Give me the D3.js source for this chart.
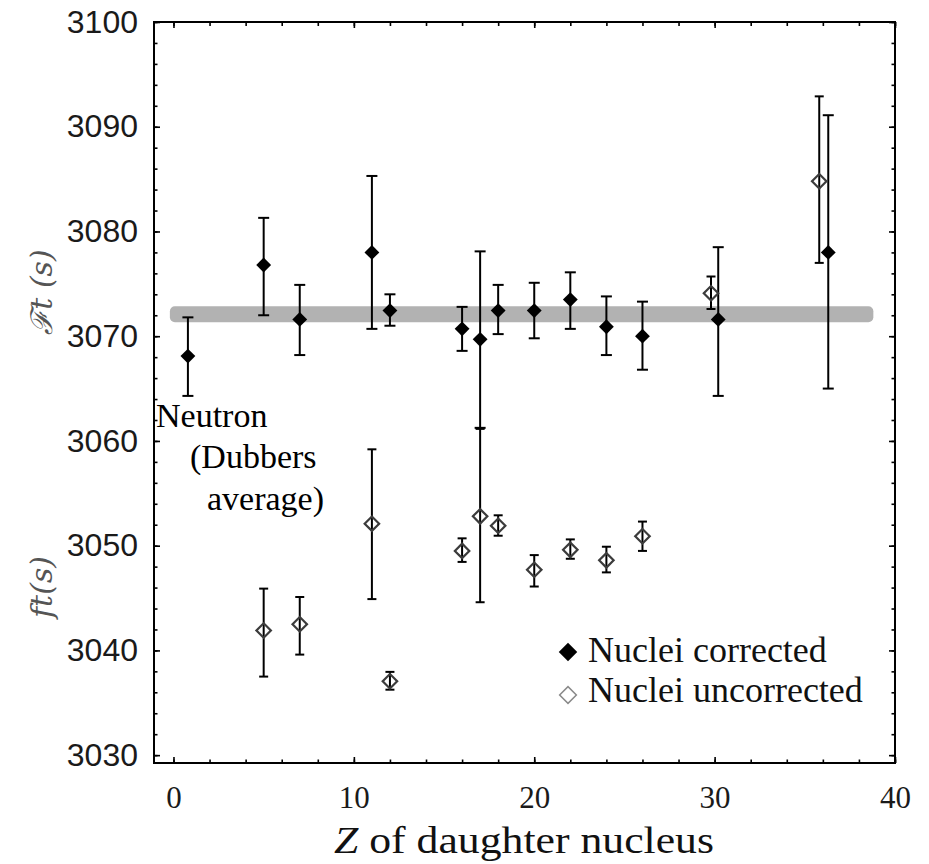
<!DOCTYPE html>
<html>
<head>
<meta charset="utf-8">
<script src="https://cdn.jsdelivr.net/npm/d3@7"></script>
<style>
    body { margin: 0; background: #fff; }
    .tick line { stroke: #000; stroke-width: 1.6; }
</style>
</head>
<body>
<script>
var w = 929;
var h = 864;

//Plot frame in pixels
var plotLeft = 154, plotRight = 895, plotTop = 22, plotBottom = 763;

//Corrected nuclei (filled diamonds), Z position, Ft value, error bar ends
var corrZ = [0.8, 5, 7, 11, 12, 16, 17, 18, 20, 22, 24, 26, 30.2, 36.3];
var corrFt = [3068.1, 3076.8, 3071.6, 3078.0, 3072.45, 3070.7, 3069.7, 3072.45, 3072.45, 3073.5, 3070.9, 3070.0, 3071.6, 3078.0];
var corrUpper = [3071.8, 3081.3, 3074.9, 3085.3, 3074.0, 3072.8, 3078.1, 3074.9, 3075.1, 3076.1, 3073.8, 3073.3, 3078.5, 3091.1];
var corrLower = [3064.3, 3072.0, 3068.2, 3070.7, 3071.0, 3068.6, 3061.25, 3070.2, 3069.8, 3070.7, 3068.2, 3066.8, 3064.3, 3065.0];

//Uncorrected nuclei (open diamonds)
var uncZ = [5, 7, 11, 12, 16, 17, 18, 20, 22, 24, 26, 29.8, 35.8];
var uncFt = [3041.9, 3042.5, 3052.1, 3037.05, 3049.5, 3052.8, 3051.9, 3047.7, 3049.6, 3048.6, 3050.9, 3074.1, 3084.8];
var uncUpper = [3045.9, 3045.1, 3059.2, 3037.95, 3050.7, 3061.15, 3052.9, 3049.1, 3050.6, 3049.9, 3052.3, 3075.7, 3092.9];
var uncLower = [3037.5, 3039.6, 3044.9, 3036.25, 3048.45, 3044.6, 3050.95, 3046.1, 3048.75, 3047.45, 3049.5, 3072.6, 3077.0];

//Average Ft band
var bandFt = 3072.1;
var bandZ = [-0.2, 38.8];

//Tick values
var xMajor = [0, 10, 20, 30, 40];
var xMinor = d3.range(0, 41, 2);
var yMajor = [3030, 3040, 3050, 3060, 3070, 3080, 3090, 3100];
var yMinor = d3.range(3030, 3101, 2);

var legendLabels = ["Nuclei corrected", "Nuclei uncorrected"];

function zip(z, v, hi, lo) {
    return z.map(function (d, i) {
        return { z: d, v: v[i], hi: hi[i], lo: lo[i] };
    });
}
var corrected = zip(corrZ, corrFt, corrUpper, corrLower);
var uncorrected = zip(uncZ, uncFt, uncUpper, uncLower);

var xScale = d3.scaleLinear().domain([-1.08, 40]).range([plotLeft, plotRight]);
var yScale = d3.scaleLinear().domain([3029.25, 3100]).range([plotBottom, plotTop]);

var svg = d3.select("body")
    .append("svg")
    .attr("width", w)
    .attr("height", h);

//Gray band for the average
svg.append("rect")
    .attr("x", xScale(bandZ[0]))
    .attr("y", yScale(bandFt) - 8)
    .attr("width", xScale(bandZ[1]) - xScale(bandZ[0]))
    .attr("height", 16)
    .attr("rx", 5)
    .attr("fill", "#b2b2b2");

//Axes: ticks point inward on all four sides
function axisGroup(axis, tx, ty) {
    var g = svg.append("g")
        .attr("transform", "translate(" + tx + "," + ty + ")")
        .call(axis);
    g.select(".domain").remove();
    return g;
}

axisGroup(d3.axisLeft(yScale).tickValues(yMinor).tickSize(-3.5).tickFormat(""), plotLeft, 0);
axisGroup(d3.axisRight(yScale).tickValues(yMinor).tickSize(-3.5).tickFormat(""), plotRight, 0);
axisGroup(d3.axisTop(xScale).tickValues(xMinor).tickSize(-4).tickFormat(""), 0, plotTop);
axisGroup(d3.axisBottom(xScale).tickValues(xMinor).tickSize(-3.5).tickFormat(""), 0, plotBottom);

var yaxis = axisGroup(d3.axisLeft(yScale).tickValues(yMajor).tickSize(-6).tickPadding(16).tickFormat(d3.format("d")), plotLeft, 0);
yaxis.selectAll("text")
    .attr("font-family", "Liberation Sans, Arial, sans-serif")
    .attr("font-size", "32px")
    .attr("fill", "#1a1a1a");

axisGroup(d3.axisRight(yScale).tickValues(yMajor).tickSize(-6).tickFormat(""), plotRight, 0);
axisGroup(d3.axisTop(xScale).tickValues(xMajor).tickSize(-6).tickFormat(""), 0, plotTop);

var xaxis = axisGroup(d3.axisBottom(xScale).tickValues(xMajor).tickSize(-6).tickPadding(23), 0, plotBottom);
xaxis.selectAll("text")
    .attr("font-family", "Liberation Serif, Times New Roman, serif")
    .attr("font-size", "31px")
    .attr("fill", "#1a1a1a");

//Frame
svg.append("rect")
    .attr("x", plotLeft)
    .attr("y", plotTop)
    .attr("width", plotRight - plotLeft)
    .attr("height", plotBottom - plotTop)
    .attr("fill", "none")
    .attr("stroke", "#000")
    .attr("stroke-width", 2);

//Error bars
function errorBars(data, cap) {
    var g = svg.append("g")
        .attr("stroke", "#000")
        .attr("stroke-width", 2);
    g.selectAll(".bar")
        .data(data)
        .enter()
        .append("line")
        .attr("x1", function (d) { return xScale(d.z); })
        .attr("x2", function (d) { return xScale(d.z); })
        .attr("y1", function (d) { return yScale(d.hi); })
        .attr("y2", function (d) { return yScale(d.lo); });
    ["hi", "lo"].forEach(function (k) {
        g.selectAll(".cap-" + k)
            .data(data)
            .enter()
            .append("line")
            .attr("x1", function (d) { return xScale(d.z) - cap / 2; })
            .attr("x2", function (d) { return xScale(d.z) + cap / 2; })
            .attr("y1", function (d) { return yScale(d[k]); })
            .attr("y2", function (d) { return yScale(d[k]); });
    });
}
errorBars(corrected, 11);
errorBars(uncorrected, 9);

//Diamond markers
var diamond = d3.symbol().type(d3.symbolSquare);

svg.selectAll(".unc")
    .data(uncorrected)
    .enter()
    .append("path")
    .attr("d", diamond.size(105))
    .attr("transform", function (d) {
        return "translate(" + xScale(d.z) + "," + yScale(d.v) + ") rotate(45)";
    })
    .attr("fill", "none")
    .attr("stroke", "#3c3c3c")
    .attr("stroke-width", 2.2);

svg.selectAll(".corr")
    .data(corrected)
    .enter()
    .append("path")
    .attr("d", diamond.size(110))
    .attr("transform", function (d) {
        return "translate(" + xScale(d.z) + "," + yScale(d.v) + ") rotate(45)";
    })
    .attr("fill", "#000");

//Neutron annotation
var serif = "Liberation Serif, Times New Roman, serif";
svg.append("text")
    .attr("x", 156).attr("y", 427)
    .attr("font-family", serif).attr("font-size", "34px")
    .text("Neutron");
svg.append("text")
    .attr("x", 190).attr("y", 468)
    .attr("font-family", serif).attr("font-size", "34px")
    .text("(Dubbers");
svg.append("text")
    .attr("x", 207).attr("y", 510)
    .attr("font-family", serif).attr("font-size", "34px")
    .text("average)");

//Legend
var legend = svg.append("g");
legend.append("path")
    .attr("d", d3.symbol().type(d3.symbolSquare).size(170))
    .attr("transform", "translate(568,652) rotate(45)")
    .attr("fill", "#000");
legend.append("path")
    .attr("d", d3.symbol().type(d3.symbolSquare).size(140))
    .attr("transform", "translate(568,695) rotate(45)")
    .attr("fill", "none")
    .attr("stroke", "#8a8a8a")
    .attr("stroke-width", 1.5);
legend.selectAll("text")
    .data(legendLabels)
    .enter()
    .append("text")
    .attr("x", 588)
    .attr("y", function (d, i) { return 662 + i * 40; })
    .attr("font-family", serif)
    .attr("font-size", "36px")
    .attr("fill", "#111")
    .text(function (d) { return d; });

//X axis title
var xt = svg.append("text")
    .attr("x", 524).attr("y", 853)
    .attr("text-anchor", "middle")
    .attr("font-family", serif)
    .attr("font-size", "37px")
    .attr("textLength", 380)
    .attr("lengthAdjust", "spacingAndGlyphs")
    .attr("fill", "#111");
xt.append("tspan").attr("font-style", "italic").text("Z");
xt.append("tspan").text(" of daughter nucleus");

//Y axis titles (rotated)
svg.append("text")
    .attr("transform", "translate(52,292) rotate(-90)")
    .attr("text-anchor", "middle")
    .attr("font-family", "DejaVu Serif, serif")
    .attr("font-style", "italic")
    .attr("font-size", "30px")
    .attr("fill", "#555")
    .text("ℱt (s)");
svg.append("text")
    .attr("transform", "translate(52,587) rotate(-90)")
    .attr("text-anchor", "middle")
    .attr("font-family", "DejaVu Serif, serif")
    .attr("font-style", "italic")
    .attr("font-size", "30px")
    .attr("fill", "#555")
    .text("ft(s)");
</script>
</body>
</html>
